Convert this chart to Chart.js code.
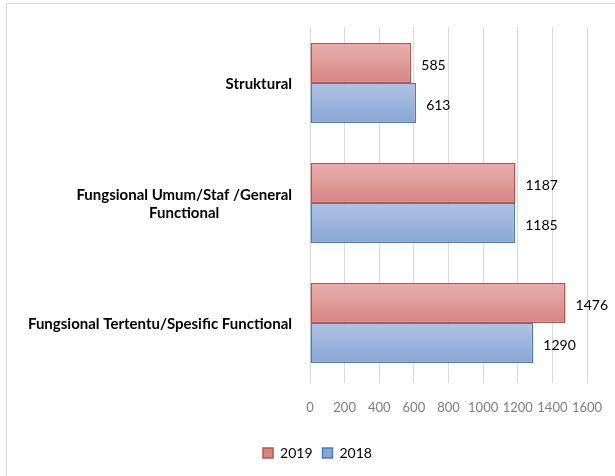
<!DOCTYPE html>
<html>
<head>
<meta charset="utf-8">
<script src="https://cdn.jsdelivr.net/npm/chart.js@4/dist/chart.umd.min.js"></script>
<style>
  html, body { margin: 0; padding: 0; background: #ffffff; }
  #wrap { width: 615px; height: 476px; position: relative; }
</style>
</head>
<body>
<div id="wrap"><canvas id="c" width="615" height="476"></canvas></div>
<script>
const categories = [
  ["Struktural"],
  ["Fungsional Umum/Staf /General", "Functional"],
  ["Fungsional Tertentu/Spesific Functional"]
];
const seriesNames = ["2019", "2018"];
const values2019 = [585, 1187, 1476];
const values2018 = [613, 1185, 1290];
const xTicks = [0, 200, 400, 600, 800, 1000, 1200, 1400, 1600];

const CAT_PCT = 0.667;
const palette = {
  "2019": { top: "#e8b0af", bottom: "#d58584", border: "#c0504d" },
  "2018": { top: "#b0c3e3", bottom: "#8aa6d6", border: "#4a7ebb" }
};

function gradFill(name) {
  return function (ctx) {
    const chart = ctx.chart;
    const p = palette[name];
    const yS = chart.scales.y;
    if (!chart.chartArea || !yS || ctx.dataIndex === undefined) return p.bottom;
    const center = yS.getPixelForValue(ctx.dataIndex);
    const band = Math.abs(yS.getPixelForValue(1) - yS.getPixelForValue(0));
    const barH = band * CAT_PCT / 2;
    const top = center - barH + ctx.datasetIndex * barH;
    if (!isFinite(top)) return p.bottom;
    const g = chart.ctx.createLinearGradient(0, top, 0, top + barH);
    g.addColorStop(0, p.top);
    g.addColorStop(1, p.bottom);
    return g;
  };
}

const frame = {
  id: 'frame',
  beforeDraw(chart) {
    const c = chart.ctx;
    c.save();
    c.fillStyle = '#ffffff';
    c.fillRect(0, 0, chart.width, chart.height);
    c.strokeStyle = '#d9d9d9';
    c.lineWidth = 1;
    c.strokeRect(6.5, 3.5, chart.width + 20, chart.height + 20);
    c.restore();
  },
  beforeDatasetsDraw(chart) {
    // gridlines begin a little below the plot top, as in the original
    const a = chart.chartArea;
    const c = chart.ctx;
    c.save();
    c.fillStyle = '#ffffff';
    c.fillRect(a.left - 2, a.top - 1, a.right - a.left + 4, 5);
    c.restore();
  }
};

const valueLabels = {
  id: 'valueLabels',
  afterDatasetsDraw(chart) {
    const c = chart.ctx;
    c.save();
    c.font = '14px Lato';
    c.fillStyle = '#000000';
    c.textAlign = 'left';
    c.textBaseline = 'middle';
    chart.data.datasets.forEach((ds, di) => {
      const meta = chart.getDatasetMeta(di);
      meta.data.forEach((el, i) => {
        c.fillText(String(ds.data[i]), el.x + 10, el.y + 2);
      });
    });
    c.restore();
  }
};

const catLabels = {
  id: 'catLabels',
  afterDraw(chart) {
    const c = chart.ctx;
    const yS = chart.scales.y;
    c.save();
    c.font = 'bold 15px Lato';
    c.fillStyle = '#000000';
    c.textAlign = 'center';
    c.textBaseline = 'middle';
    const rightEdge = 292;
    const lh = 18.5;
    categories.forEach((lines, i) => {
      const cy = yS.getPixelForValue(i);
      const w = Math.max(...lines.map(l => c.measureText(l).width));
      const cx = rightEdge - w / 2;
      const y0 = cy - (lines.length - 1) * lh / 2;
      lines.forEach((l, k) => c.fillText(l, cx, y0 + k * lh + 1));
    });
    c.restore();
  }
};

new Chart(document.getElementById('c'), {
  type: 'bar',
  data: {
    labels: categories.map(l => l.join(' ')),
    datasets: [
      {
        label: seriesNames[0],
        data: values2019,
        backgroundColor: gradFill("2019"),
        borderColor: palette["2019"].border,
        borderWidth: 1.5,
        borderSkipped: false,
        categoryPercentage: CAT_PCT,
        barPercentage: 1.0
      },
      {
        label: seriesNames[1],
        data: values2018,
        backgroundColor: gradFill("2018"),
        borderColor: palette["2018"].border,
        borderWidth: 1.5,
        borderSkipped: false,
        categoryPercentage: CAT_PCT,
        barPercentage: 1.0
      }
    ]
  },
  options: {
    indexAxis: 'y',
    responsive: false,
    animation: false,
    devicePixelRatio: 1,
    layout: { padding: { left: 48, right: 28, top: 23, bottom: 6 } },
    scales: {
      y: {
        type: 'category',
        display: true,
        offset: true,
        grid: { display: false, drawTicks: false },
        border: { display: false },
        ticks: { display: false },
        afterFit(scale) { scale.width = 262; }
      },
      x: {
        min: 0,
        max: 1600,
        afterBuildTicks(scale) {
          scale.ticks = xTicks.map(v => ({ value: v }));
        },
        afterFit(scale) {
          scale.height = 53;
          scale.paddingLeft = 0;
          scale.paddingRight = 0;
        },
        border: { display: false },
        grid: { color: '#d9d9d9', lineWidth: 1, drawTicks: false },
        ticks: {
          padding: 17,
          color: '#7f7f7f',
          font: { family: 'Lato', size: 13 },
          maxRotation: 0,
          autoSkip: false,
          callback: (v) => String(v)
        }
      }
    },
    plugins: {
      legend: {
        position: 'bottom',
        labels: {
          boxWidth: 10,
          boxHeight: 10,
          color: '#595959',
          font: { family: 'Lato', size: 14 },
          padding: 10,
          generateLabels(chart) {
            return chart.data.datasets.map((ds, i) => ({
              text: ds.label,
              fillStyle: palette[ds.label].bottom,
              strokeStyle: ds.borderColor,
              lineWidth: 1.5,
              datasetIndex: i,
              hidden: false
            }));
          }
        }
      },
      tooltip: { enabled: false }
    }
  },
  plugins: [frame, valueLabels, catLabels]
});
</script>
</body>
</html>
